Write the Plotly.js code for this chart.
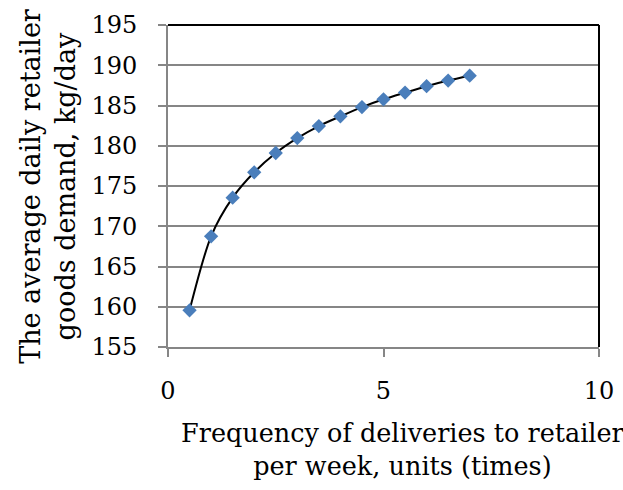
<!DOCTYPE html>
<html><head><meta charset="utf-8">
<script src="https://cdn.plot.ly/plotly-3.0.1.min.js"></script>
<style>html,body{margin:0;padding:0;background:#fff}</style>
</head><body>
<div id="chart" style="width:623px;height:490px"></div>
<script>
const frequency = [0.5, 1, 1.5, 2, 2.5, 3, 3.5, 4, 4.5, 5, 5.5, 6, 6.5, 7];
const demand = [159.55, 168.75, 173.55, 176.7, 179.1, 180.95, 182.45, 183.65, 184.8, 185.77, 186.6, 187.4, 188.1, 188.7];
const xTicks = [0, 5, 10];
const yTicks = [155, 160, 165, 170, 175, 180, 185, 190, 195];
const xTitle = 'Frequency of deliveries to retailer<br>per week, units (times)';
const yTitle = 'The average daily retailer<br>goods demand, kg/day';

const font = "DejaVu Serif";
const trace = {
  x: frequency, y: demand, type: 'scatter', mode: 'lines+markers',
  line: {color: '#000000', width: 2, shape: 'spline', smoothing: 0.8},
  marker: {symbol: 'diamond', size: 11, color: '#4A7EBB'},
  showlegend: false, hoverinfo: 'skip'
};
const layout = {
  width: 623, height: 490,
  margin: {l: 168, r: 24, t: 25, b: 143},
  paper_bgcolor: '#ffffff', plot_bgcolor: '#ffffff',
  font: {family: font, size: 24, color: '#000000'},
  xaxis: {
    range: [0, 10], tickvals: xTicks, ticktext: xTicks.map(String),
    showgrid: false, zeroline: false, showline: true, linecolor: '#868686', linewidth: 2,
    ticks: 'outside', ticklen: 8, tickwidth: 2, tickcolor: '#868686',
    ticklabelstandoff: 13, tickfont: {family: font, size: 24, color: '#000'}
  },
  yaxis: {
    range: [155, 195], tickvals: yTicks, ticktext: yTicks.map(String),
    showgrid: true, gridcolor: '#868686', gridwidth: 2,
    zeroline: false, showline: true, linecolor: '#868686', linewidth: 2,
    ticks: 'outside', ticklen: 8, tickwidth: 2, tickcolor: '#868686',
    ticklabelstandoff: 16, tickfont: {family: font, size: 24, color: '#000'}
  },
  shapes: [
    {type: 'line', xref: 'paper', yref: 'paper', x0: 0, x1: 1, y0: 1, y1: 1, line: {color: '#000', width: 2}},
    {type: 'line', xref: 'paper', yref: 'paper', x0: 1, x1: 1, y0: 0, y1: 1, line: {color: '#000', width: 2}}
  ],
  annotations: [
    {text: xTitle, xref: 'paper', yref: 'paper', x: 0.545, y: -0.215, xanchor: 'center', yanchor: 'top',
     showarrow: false, align: 'center', font: {family: font, size: 25.5, color: '#000'}},
    {text: yTitle, xref: 'paper', yref: 'paper', x: -0.36, y: 0.5, xanchor: 'left', yanchor: 'middle',
     textangle: -90, showarrow: false, align: 'center', font: {family: font, size: 27, color: '#000'}}
  ]
};
Plotly.newPlot('chart', [trace], layout, {staticPlot: true, displayModeBar: false});
</script>
</body></html>
